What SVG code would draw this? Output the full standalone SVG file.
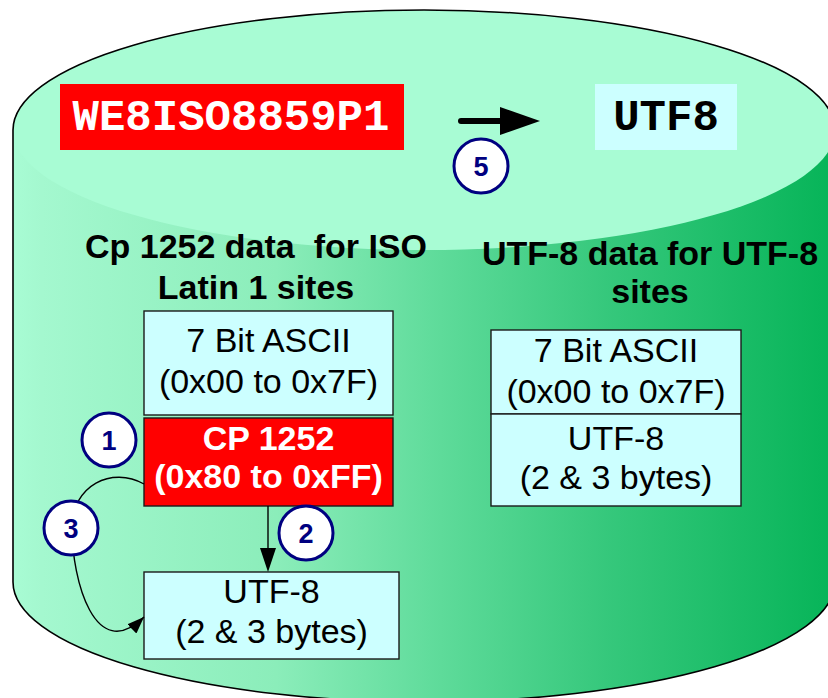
<svg xmlns="http://www.w3.org/2000/svg" width="828" height="698" viewBox="0 0 828 698">
  <defs>
    <linearGradient id="bodyFill" gradientUnits="userSpaceOnUse" x1="13" y1="0" x2="835" y2="0">
      <stop offset="0" stop-color="#A8FCD4"/>
      <stop offset="0.035" stop-color="#A4F8CF"/>
      <stop offset="0.32" stop-color="#8BEDBA"/>
      <stop offset="0.52" stop-color="#5EDB9A"/>
      <stop offset="0.72" stop-color="#36C87C"/>
      <stop offset="1" stop-color="#06B458"/>
    </linearGradient>
    <marker id="arrowHead" viewBox="0 0 17 13" refX="17" refY="6.5" markerWidth="17" markerHeight="13" markerUnits="userSpaceOnUse" orient="auto">
      <path d="M0,0 L17,6.5 L0,13 Z" fill="#000"/>
    </marker>
  </defs>
  <style>
    .box { fill: #CCFFFF; stroke: #1A1A1A; stroke-width: 1.4; }
    .hot { fill: #FF0000; stroke: #1A1A1A; stroke-width: 1.4; }
    .txt { font-family: "Liberation Sans", Arial, sans-serif; font-size: 34px; fill: #000; text-anchor: middle; }
    .bold { font-weight: bold; }
    .white { fill: #FFFFFF; }
    .mono { font-family: "Liberation Mono", "Courier New", monospace; font-weight: bold; font-size: 44px; text-anchor: middle; }
    .step circle { fill: #FFFFFF; stroke: #000080; stroke-width: 3; }
    .step text { font-family: "Liberation Sans", Arial, sans-serif; font-weight: bold; font-size: 27px; fill: #000080; text-anchor: middle; }
    .wire { fill: none; stroke: #000; stroke-width: 1.4; }
  </style>

  <!-- database cylinder -->
  <g id="cylinder">
    <path d="M13,130 A411,120 0 0 1 835,130 L835,582 A411,120 0 0 1 13,582 Z" fill="url(#bodyFill)"/>
    <ellipse cx="424" cy="130" rx="411" ry="120" fill="#A8FCD4"/>
    <path d="M13,130 A411,120 0 0 1 835,130 L835,582 A411,120 0 0 1 13,582 Z" fill="none" stroke="#000" stroke-width="1.6"/>
  </g>

  <!-- character set labels on the lid -->
  <g id="charset-source">
    <rect x="60" y="84" width="344" height="66" fill="#FF0000"/>
    <text class="mono white" x="231" y="130">WE8ISO8859P1</text>
  </g>
  <g id="charset-target">
    <rect x="595" y="84" width="142" height="66" fill="#CCFFFF"/>
    <text class="mono" x="666" y="130">UTF8</text>
  </g>

  <!-- column headings -->
  <g id="heading-left">
    <text class="txt bold" x="256" y="258" xml:space="preserve">Cp 1252 data  for ISO</text>
    <text class="txt bold" x="256" y="299">Latin 1 sites</text>
  </g>
  <g id="heading-right">
    <text class="txt bold" x="650" y="265">UTF-8 data for UTF-8</text>
    <text class="txt bold" x="650" y="303">sites</text>
  </g>

  <!-- left column: ISO Latin 1 site data -->
  <g id="left-ascii">
    <rect class="box" x="144" y="311" width="249" height="104"/>
    <text class="txt" x="268.5" y="352">7 Bit ASCII</text>
    <text class="txt" x="268.5" y="393">(0x00 to 0x7F)</text>
  </g>
  <g id="left-cp1252">
    <rect class="hot" x="144" y="418" width="249" height="88"/>
    <text class="txt bold white" x="268.5" y="450">CP 1252</text>
    <text class="txt bold white" x="268.5" y="488">(0x80 to 0xFF)</text>
  </g>
  <g id="left-utf8">
    <rect class="box" x="144" y="572" width="255" height="87"/>
    <text class="txt" x="271.5" y="603">UTF-8</text>
    <text class="txt" x="271.5" y="643">(2 &amp; 3 bytes)</text>
  </g>

  <!-- right column: UTF-8 site data -->
  <g id="right-ascii">
    <rect class="box" x="491" y="330" width="250" height="84"/>
    <text class="txt" x="616" y="362">7 Bit ASCII</text>
    <text class="txt" x="616" y="403">(0x00 to 0x7F)</text>
  </g>
  <g id="right-utf8">
    <rect class="box" x="491" y="414" width="250" height="92"/>
    <text class="txt" x="616" y="450">UTF-8</text>
    <text class="txt" x="616" y="489">(2 &amp; 3 bytes)</text>
  </g>

  <!-- connectors -->
  <g id="connectors">
    <g id="migrate-arrow">
      <line x1="461" y1="121" x2="502" y2="121" stroke="#000" stroke-width="6" stroke-linecap="round"/>
      <path d="M500,107 L540,121 L500,135 Z" fill="#000"/>
    </g>
    <g id="convert-arrow">
      <line class="wire" x1="268" y1="506" x2="268" y2="550"/>
      <path d="M260,548 L276,548 L268,572 Z" fill="#000"/>
    </g>
    <path id="loop-arrow" class="wire" d="M144,484 C112,466 72,485 72,528 C72,580 95,665 144,617" marker-end="url(#arrowHead)"/>
  </g>

  <!-- numbered steps -->
  <g id="step-1" class="step">
    <circle cx="109" cy="440" r="27"/>
    <text x="109" y="450">1</text>
  </g>
  <g id="step-2" class="step">
    <circle cx="306" cy="533" r="27"/>
    <text x="306" y="543">2</text>
  </g>
  <g id="step-3" class="step">
    <circle cx="71" cy="528" r="27"/>
    <text x="71" y="538">3</text>
  </g>
  <g id="step-5" class="step">
    <circle cx="481" cy="166" r="27"/>
    <text x="481" y="176">5</text>
  </g>
</svg>
